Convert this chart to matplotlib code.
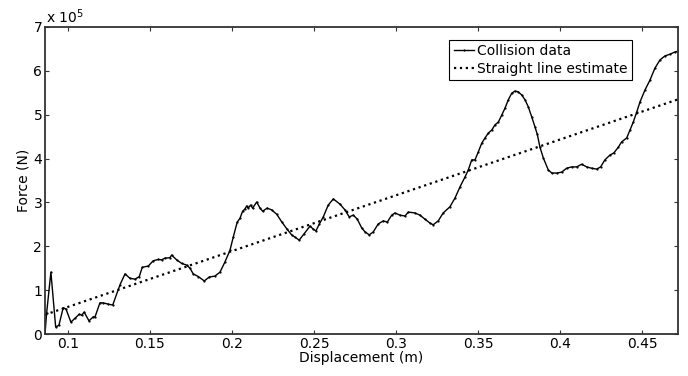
import matplotlib.pyplot as plt
import numpy as np

plt.rcParams['font.family'] = ['DejaVu Sans']

# collision data (force in units of 1e5 N)
disp = [0.0860, 0.0870, 0.0896, 0.0925, 0.0945, 0.0971, 0.0988, 0.1018, 0.1043, 0.1069,
        0.1084, 0.1099, 0.1128, 0.1154, 0.1165, 0.1195, 0.1215, 0.1246, 0.1273, 0.1317,
        0.1348, 0.1378, 0.1409, 0.1435, 0.1453, 0.1490, 0.1520, 0.1551, 0.1571, 0.1591,
        0.1622, 0.1632, 0.1663, 0.1693, 0.1724, 0.1744, 0.1764, 0.1795, 0.1831, 0.1862,
        0.1896, 0.1927, 0.1957, 0.1988, 0.2008, 0.2032, 0.2049, 0.2065, 0.2079, 0.2090,
        0.2099, 0.2114, 0.2126, 0.2151, 0.2171, 0.2187, 0.2215, 0.2242, 0.2273, 0.2303,
        0.2334, 0.2364, 0.2384, 0.2410, 0.2439, 0.2476, 0.2496, 0.2512, 0.2533, 0.2557,
        0.2587, 0.2618, 0.2659, 0.2689, 0.2715, 0.2740, 0.2764, 0.2791, 0.2811, 0.2837,
        0.2862, 0.2892, 0.2923, 0.2947, 0.2974, 0.2994, 0.3024, 0.3055, 0.3075, 0.3116,
        0.3146, 0.3177, 0.3207, 0.3227, 0.3258, 0.3288, 0.3329, 0.3360, 0.3390, 0.3421,
        0.3441, 0.3462, 0.3482, 0.3502, 0.3523, 0.3543, 0.3563, 0.3584, 0.3604, 0.3624,
        0.3645, 0.3665, 0.3685, 0.3706, 0.3726, 0.3746, 0.3767, 0.3787, 0.3807, 0.3828,
        0.3848, 0.3862, 0.3878, 0.3899, 0.3929, 0.3950, 0.3980, 0.4010, 0.4041, 0.4071,
        0.4102, 0.4132, 0.4163, 0.4193, 0.4224, 0.4248, 0.4274, 0.4305, 0.4329, 0.4356,
        0.4376, 0.4407, 0.4427, 0.4447, 0.4468, 0.4488, 0.4518, 0.4549, 0.4579, 0.4610,
        0.4640, 0.4671, 0.4701, 0.4720]
force = [0.00, 0.48, 1.41, 0.16, 0.20, 0.60, 0.57, 0.27, 0.36, 0.45,
         0.43, 0.50, 0.30, 0.39, 0.39, 0.71, 0.71, 0.68, 0.66, 1.12,
         1.37, 1.27, 1.25, 1.31, 1.52, 1.55, 1.67, 1.70, 1.69, 1.73,
         1.74, 1.80, 1.69, 1.61, 1.57, 1.50, 1.37, 1.31, 1.21, 1.30,
         1.32, 1.41, 1.64, 1.91, 2.21, 2.55, 2.64, 2.80, 2.85, 2.92,
         2.87, 2.94, 2.87, 3.01, 2.87, 2.80, 2.87, 2.83, 2.73, 2.56,
         2.40, 2.26, 2.21, 2.14, 2.28, 2.46, 2.39, 2.35, 2.51, 2.67,
         2.94, 3.08, 2.96, 2.83, 2.67, 2.71, 2.62, 2.42, 2.33, 2.26,
         2.33, 2.51, 2.58, 2.55, 2.71, 2.76, 2.71, 2.69, 2.78, 2.76,
         2.71, 2.62, 2.53, 2.49, 2.58, 2.76, 2.90, 3.10, 3.35, 3.58,
         3.74, 3.97, 3.97, 4.15, 4.35, 4.47, 4.58, 4.65, 4.77, 4.83,
         4.99, 5.15, 5.34, 5.49, 5.54, 5.52, 5.45, 5.34, 5.18, 4.95,
         4.72, 4.55, 4.26, 4.01, 3.74, 3.67, 3.67, 3.69, 3.78, 3.81,
         3.81, 3.87, 3.81, 3.78, 3.76, 3.81, 3.97, 4.08, 4.13, 4.26,
         4.38, 4.47, 4.65, 4.83, 5.06, 5.29, 5.56, 5.79, 6.06, 6.25,
         6.34, 6.38, 6.43, 6.45]

# straight line estimate, end points
est_x = [0.086, 0.472]
est_f = [0.44, 5.35]

xticks = [0.1, 0.15, 0.2, 0.25, 0.3, 0.35, 0.4, 0.45]
xticklabels = ['0.1', '0.15', '0.2', '0.25', '0.3', '0.35', '0.4', '0.45']
yticks = [0, 1, 2, 3, 4, 5, 6, 7]

fig = plt.figure(figsize=(6.88, 3.76), dpi=100)
ax = fig.add_axes([0.0654, 0.1117, 0.9201, 0.8165])

ax.plot(disp, force, color='black', lw=1.0, marker='.', markersize=1.2,
        label='Collision data')
ax.plot(est_x, est_f, color='black', lw=1.6, linestyle=':',
        label='Straight line estimate')

ax.set_xlim(0.086, 0.472)
ax.set_ylim(0, 7)
ax.set_xticks(xticks)
ax.set_xticklabels(xticklabels)
ax.set_yticks(yticks)
ax.tick_params(direction='in', length=3, width=0.8, top=True, right=True,
               labelsize=10, pad=2, color='#333333')
for s in ax.spines.values():
    s.set_linewidth(1.3)
    s.set_color('#333333')

ax.text(0.002, 1.003, r'x 10$^{5}$', transform=ax.transAxes,
        ha='left', va='bottom', fontsize=10)

ax.set_xlabel('Displacement (m)', fontsize=10, labelpad=0)
ax.set_ylabel('Force (N)', fontsize=10, labelpad=2)

leg = ax.legend(loc='upper right', bbox_to_anchor=(0.927, 0.958),
                borderaxespad=0, fontsize=10, handlelength=1.5,
                handletextpad=0.2, borderpad=0.3, labelspacing=0.3,
                fancybox=False, framealpha=1)
leg.get_frame().set_edgecolor('black')
leg.get_frame().set_linewidth(0.8)

fig.savefig('out.png', dpi=100)
